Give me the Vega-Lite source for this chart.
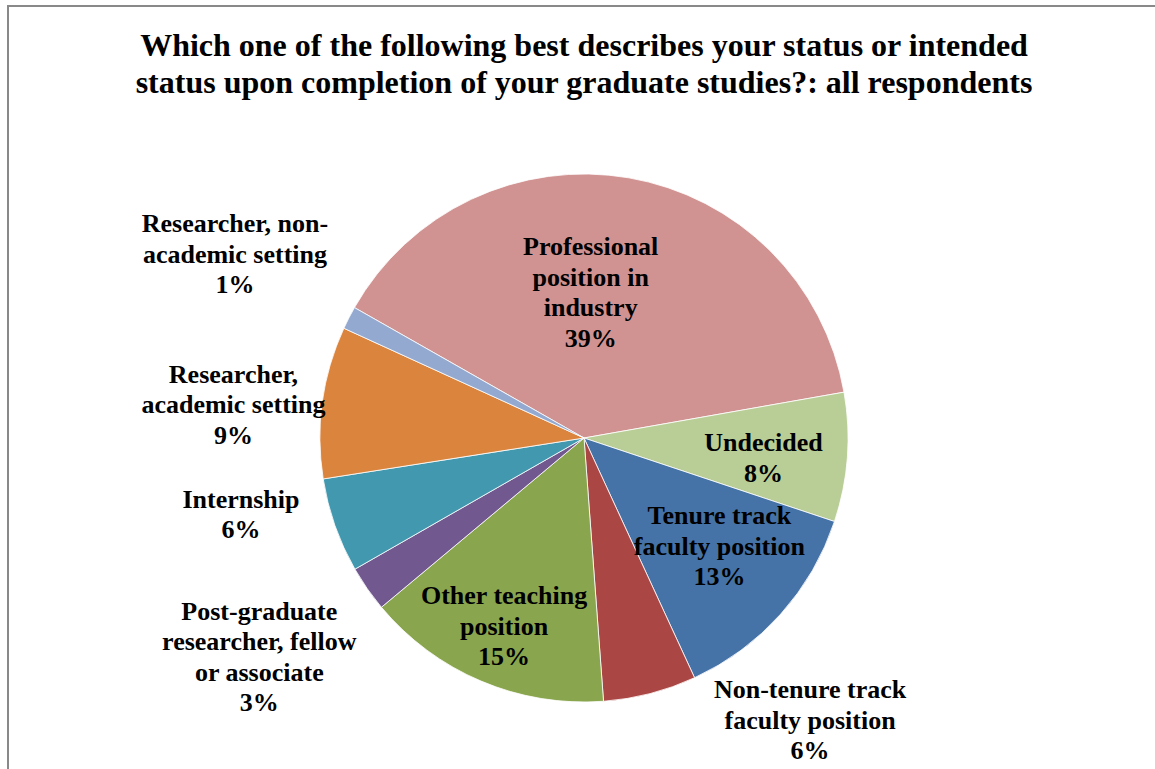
{
  "$schema": "https://vega.github.io/schema/vega-lite/v6.json",
  "autosize": "none",
  "padding": {"left": 8, "top": 6, "right": 0, "bottom": 0},
  "width": 1152,
  "height": 864,
  "background": "white",
  "config": {
    "view": {"stroke": null},
    "text": {"font": "Liberation Serif", "fontWeight": "bold", "fontSize": 26, "lineHeight": 30.5, "align": "center", "baseline": "middle", "lineBreak": "\n", "color": "black"}
  },
  "title": {
    "text": ["Which one of the following best describes your status or intended", "status upon completion of your graduate studies?: all respondents"],
    "font": "Liberation Serif", "fontWeight": "bold", "fontSize": 32, "lineHeight": 37, "color": "black",
    "anchor": "middle", "frame": "group", "offset": -95
  },
  "layer": [
    {
      "data": {"values": [{"frame": "chart area"}]},
      "mark": {"type": "rect", "filled": false, "stroke": "#898989", "strokeWidth": 2},
      "encoding": {
        "x": {"value": 0}, "x2": {"value": "width"},
        "y": {"value": 0}, "y2": {"value": "height"}
      }
    },
    {
      "data": {
        "values": [
          {"rank": 1, "category": "Professional position in industry", "label": "Professional\nposition in\nindustry", "share": 39.0},
          {"rank": 2, "category": "Undecided", "label": "Undecided", "share": 7.9},
          {"rank": 3, "category": "Tenure track faculty position", "label": "Tenure track\nfaculty position", "share": 13.0},
          {"rank": 4, "category": "Non-tenure track faculty position", "label": "Non-tenure track\nfaculty position", "share": 5.7},
          {"rank": 5, "category": "Other teaching position", "label": "Other teaching\nposition", "share": 15.1},
          {"rank": 6, "category": "Post-graduate researcher, fellow or associate", "label": "Post-graduate\nresearcher, fellow\nor associate", "share": 2.8},
          {"rank": 7, "category": "Internship", "label": "Internship", "share": 5.8},
          {"rank": 8, "category": "Researcher, academic setting", "label": "Researcher,\nacademic setting", "share": 9.3},
          {"rank": 9, "category": "Researcher, non-academic setting", "label": "Researcher, non-\nacademic setting", "share": 1.4}
        ]
      },
      "transform": [
        {"calculate": "datum.label + '\\n' + format(datum.share / 100, '.0%')", "as": "text"}
      ],
      "encoding": {
        "theta": {"field": "share", "type": "quantitative", "stack": true, "scale": {"range": [5.2290, 11.5122]}},
        "order": {"field": "rank", "type": "quantitative"}
      },
      "layer": [
        {
          "mark": {"type": "arc", "outerRadius": 264, "stroke": "white", "strokeWidth": 0.8},
          "encoding": {
            "color": {
              "field": "category", "type": "nominal", "legend": null,
              "scale": {
                "domain": ["Professional position in industry", "Undecided", "Tenure track faculty position", "Non-tenure track faculty position", "Other teaching position", "Post-graduate researcher, fellow or associate", "Internship", "Researcher, academic setting", "Researcher, non-academic setting"],
                "range": ["#D19392", "#B9CD96", "#4572A7", "#AA4643", "#89A54E", "#71588F", "#4198AF", "#DB843D", "#93A9CF"]
              }
            }
          }
        },
        {
          "mark": {"type": "text", "radius": 145, "dx": -18, "dy": -48},
          "encoding": {"text": {"condition": {"test": "datum.rank === 1", "field": "text"}, "value": ""}}
        },
        {
          "mark": {"type": "text", "radius": 180, "dx": 0, "dy": -8},
          "encoding": {"text": {"condition": {"test": "datum.rank === 2", "field": "text"}, "value": ""}}
        },
        {
          "mark": {"type": "text", "radius": 175, "dx": 5, "dy": -38.5},
          "encoding": {"text": {"condition": {"test": "datum.rank === 3", "field": "text"}, "value": ""}}
        },
        {
          "mark": {"type": "text", "radius": 264, "dx": 160, "dy": -3.5},
          "encoding": {"text": {"condition": {"test": "datum.rank === 4", "field": "text"}, "value": ""}}
        },
        {
          "mark": {"type": "text", "radius": 205, "dx": 0, "dy": -30.5},
          "encoding": {"text": {"condition": {"test": "datum.rank === 5", "field": "text"}, "value": ""}}
        },
        {
          "mark": {"type": "text", "radius": 264, "dx": -108, "dy": 23},
          "encoding": {"text": {"condition": {"test": "datum.rank === 6", "field": "text"}, "value": ""}}
        },
        {
          "mark": {"type": "text", "radius": 264, "dx": -94, "dy": -26},
          "encoding": {"text": {"condition": {"test": "datum.rank === 7", "field": "text"}, "value": ""}}
        },
        {
          "mark": {"type": "text", "radius": 264, "dx": -89, "dy": -27.5},
          "encoding": {"text": {"condition": {"test": "datum.rank === 8", "field": "text"}, "value": ""}}
        },
        {
          "mark": {"type": "text", "radius": 264, "dx": -114, "dy": -93.5},
          "encoding": {"text": {"condition": {"test": "datum.rank === 9", "field": "text"}, "value": ""}}
        }
      ]
    }
  ]
}
